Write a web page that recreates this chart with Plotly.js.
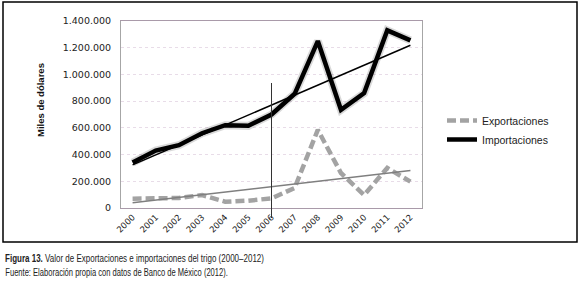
<!DOCTYPE html>
<html>
<head>
<meta charset="utf-8">
<script src="https://cdn.plot.ly/plotly-3.0.1.min.js"></script>
<style>
html,body{margin:0;padding:0;background:#fff;}
#chart{width:580px;height:285px;}
</style>
</head>
<body>
<div id="chart"></div>
<script>
// ---- data ----
const years = ['2000','2001','2002','2003','2004','2005','2006','2007','2008','2009','2010','2011','2012'];
const exportaciones = [70000, 72000, 75000, 97000, 47000, 55000, 72000, 150000, 585000, 262000, 97000, 300000, 197000];
const importaciones = [340000, 430000, 470000, 560000, 620000, 615000, 700000, 855000, 1250000, 735000, 860000, 1330000, 1255000];
const yTicks = [0, 200000, 400000, 600000, 800000, 1000000, 1200000, 1400000];
const markerYear = '2006';

// linear (least-squares) trendlines, as in the original spreadsheet chart
function trend(vals){
  const n = vals.length;
  let sx=0, sy=0, sxx=0, sxy=0;
  vals.forEach((v,i)=>{sx+=i; sy+=v; sxx+=i*i; sxy+=i*v;});
  const b = (n*sxy - sx*sy)/(n*sxx - sx*sx);
  const a = (sy - b*sx)/n;
  return vals.map((v,i)=>a+b*i);
}

// ---- layout geometry (pixels) ----
const L=121, R=422, T=21, B=208;
const W=R-L, H=B-T;
const px = x => (x-L)/W;
const py = y => (B-y)/H;

const traces = [
  {x: years, y: exportaciones, type:'scatter', mode:'lines', name:'Exportaciones', legendgroup:'a',
   line:{color:'#a3a3a3', width:4.5, dash:'9px,4px'}, showlegend:true},
  {x: years, y: importaciones, type:'scatter', mode:'lines', name:'', legendgroup:'b',
   line:{color:'rgba(0,0,0,0.15)', width:8}, showlegend:false, hoverinfo:'skip'},
  {x: years, y: importaciones, type:'scatter', mode:'lines', name:'Importaciones', legendgroup:'b',
   line:{color:'#000', width:4.5}, showlegend:true},
  {x: years, y: trend(exportaciones), type:'scatter', mode:'lines', name:'Tendencia exp.',
   line:{color:'#7f7f7f', width:1.5}, showlegend:false},
  {x: years, y: trend(importaciones), type:'scatter', mode:'lines', name:'Tendencia imp.',
   line:{color:'#000', width:1.5}, showlegend:false}
];

const markerIdx = years.indexOf(markerYear);

const layout = {
  width:580, height:285,
  margin:{l:L, r:580-R, t:T, b:285-B, pad:0},
  paper_bgcolor:'#fff', plot_bgcolor:'#fff',
  separators:',.',
  font:{family:'DejaVu Sans, sans-serif', size:9.5, color:'#222'},
  showlegend:true,
  legend:{x:px(442), y:py(106), xanchor:'left', yanchor:'top',
          font:{family:'Liberation Sans, Arial, sans-serif', size:10.5, color:'#222'},
          tracegroupgap:0, itemwidth:30, bgcolor:'rgba(0,0,0,0)'},
  xaxis:{type:'category', categoryorder:'array', categoryarray:years, range:[-0.5, years.length-0.5],
         tickangle:-45, tickfont:{size:8.5, family:'DejaVu Sans, sans-serif', color:'#222'},
         showgrid:false, showline:true, linecolor:'#a99aa9', linewidth:1, mirror:true,
         ticks:'', zeroline:false, fixedrange:true, automargin:false},
  yaxis:{range:[0,1400000], tickvals:yTicks, tickformat:',d',
         tickfont:{size:9.5, family:'DejaVu Sans, sans-serif', color:'#222'},
         showgrid:true, gridcolor:'#e8dce8', griddash:'dot', gridwidth:1,
         showline:true, linecolor:'#a6a6a6', linewidth:1, mirror:true, ticklabelstandoff:7,
         ticks:'', ticklen:0, zeroline:false, fixedrange:true, automargin:false},
  shapes:[
    {type:'rect', xref:'paper', yref:'paper', x0:px(3), x1:px(577), y0:py(242), y1:py(2),
     line:{color:'#000', width:1.5}, fillcolor:'rgba(0,0,0,0)', layer:'above'},
    {type:'line', xref:'x', yref:'paper', x0:markerIdx, x1:markerIdx, y0:py(218), y1:py(83),
     line:{color:'#333', width:1}}
  ],
  annotations:[
    {text:'<b>Miles de dólares</b>', xref:'paper', yref:'paper', x:px(40), y:py(100),
     xanchor:'center', yanchor:'middle', textangle:-90, showarrow:false,
     font:{family:'Liberation Sans, Arial, sans-serif', size:9.5, color:'#111'}},
    {text:'<b>Figura 13.</b> Valor de Exportaciones e importaciones del trigo (2000–2012)',
     xref:'paper', yref:'paper', x:px(3), y:py(258), xanchor:'left', yanchor:'middle',
     showarrow:false, font:{family:'Liberation Sans, Arial, sans-serif', size:10.5, color:'#222'}},
    {text:'Fuente: Elaboración propia con datos de Banco de México (2012).',
     xref:'paper', yref:'paper', x:px(3), y:py(272), xanchor:'left', yanchor:'middle',
     showarrow:false, font:{family:'Liberation Sans, Arial, sans-serif', size:10.5, color:'#222'}}
  ]
};

Plotly.newPlot('chart', traces, layout, {displayModeBar:false, staticPlot:true}).then(gd => {
  // the original caption uses a condensed face: squeeze the caption texts horizontally
  const widths = [null, 259, 223];
  gd.querySelectorAll('.annotation-text').forEach((t, i) => {
    if (!widths[i]) return;
    const bb = t.getBBox();
    const k = widths[i] / bb.width;
    t.style.transformBox = 'fill-box';
    t.style.transformOrigin = 'left center';
    t.style.transform = 'scaleX(' + k + ')';
  });
});
</script>
</body>
</html>
